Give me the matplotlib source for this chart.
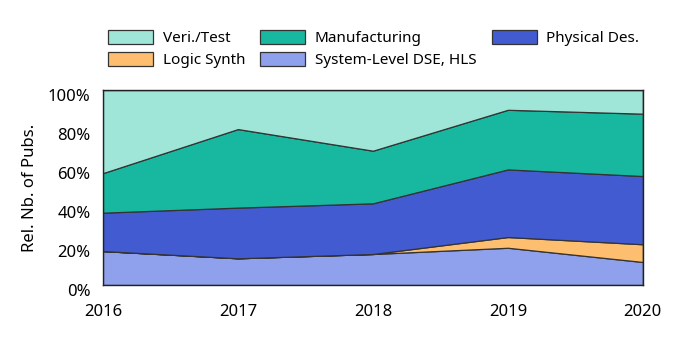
import matplotlib.pyplot as plt
import matplotlib.transforms as mtransforms
import numpy as np

plt.rcParams['font.family'] = ['Noto Sans', 'DejaVu Sans']

years = [2016, 2017, 2018, 2019, 2020]

# share of publications per year (%)
sys_dse = [17.4, 13.7, 15.9, 19.1, 11.8]
logic_synth = [0.0, 0.0, 0.0, 5.5, 9.1]
physical = [19.7, 26.0, 26.0, 34.7, 35.0]
manufacturing = [20.3, 40.3, 27.0, 30.6, 32.0]
veri_test = [42.6, 20.0, 31.1, 10.1, 12.1]

labels = ["System-Level DSE, HLS", "Logic Synth", "Physical Des.",
          "Manufacturing", "Veri./Test"]
colors = ["#8fa0ec", "#fdbf6f", "#435bd1", "#18b8a0", "#a0e6d8"]

fig = plt.figure(figsize=(6.81, 3.4), dpi=100)
ax = fig.add_axes([0.1512, 0.1618, 0.7928, 0.5732])

polys = ax.stackplot(years, sys_dse, logic_synth, physical, manufacturing,
                     veri_test, labels=labels, colors=colors,
                     edgecolor="#333333", linewidth=0.9)

ax.set_xlim(2016, 2020)
ax.set_ylim(0, 100)
ax.set_xticks(years)
ax.set_yticks(np.arange(0, 101, 20))
ax.set_yticklabels(["%d%%" % v for v in range(0, 101, 20)])
ax.tick_params(axis="both", length=0, labelsize=12)
ax.tick_params(axis="x", pad=14)
ax.tick_params(axis="y", pad=9)
# tick labels sit a little below their gridline in the original
shift = mtransforms.ScaledTranslation(0, -5 / 100, fig.dpi_scale_trans)
for lab in ax.get_yticklabels():
    lab.set_transform(lab.get_transform() + shift)
ax.set_ylabel("Rel. Nb. of Pubs.", fontsize=12, labelpad=7)
for s in ax.spines.values():
    s.set_color("#222222")
    s.set_linewidth(1.0)

# legend order: Veri, Logic, Manufacturing, System-Level, Physical (column-major)
order = [4, 1, 3, 0, 2]
handles = [polys[i] for i in order]
fig.legend(handles, [labels[i] for i in order], ncol=3, frameon=False,
           loc="upper left", bbox_to_anchor=(0.139, 0.952), fontsize=11,
           handlelength=2.95, handleheight=1.0, columnspacing=1.0,
           handletextpad=0.6, labelspacing=0.4)

fig.savefig("out.png", dpi=100)
